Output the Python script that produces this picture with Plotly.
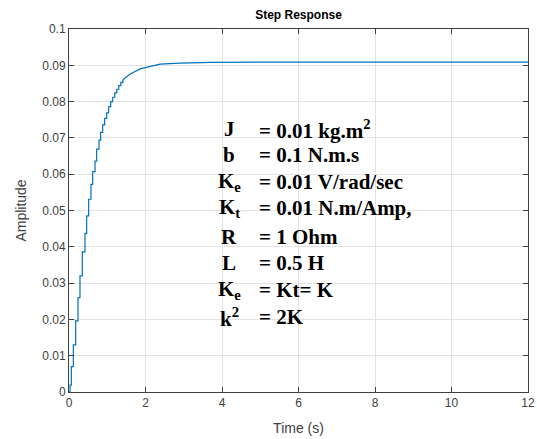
import plotly.graph_objects as go

# --- Data (staircase portion, then smooth settling) ---
stair_t = [0.0, 0.026, 0.061, 0.113, 0.174, 0.235, 0.287, 0.348, 0.418, 0.462,
           0.514, 0.575, 0.619, 0.68, 0.723, 0.784, 0.828, 0.88, 0.932, 0.985,
           1.037, 1.09, 1.143, 1.196, 1.249, 1.302, 1.355, 1.408]
stair_y = [0.0, 0.0019, 0.007, 0.013, 0.0196, 0.026, 0.032, 0.0386, 0.0437, 0.0485,
           0.0531, 0.0572, 0.0607, 0.0636, 0.0669, 0.0694, 0.0715, 0.0736, 0.0754, 0.0769,
           0.0786, 0.080, 0.0812, 0.0824, 0.0834, 0.0844, 0.0853, 0.086]
smooth_t = [1.408, 1.6, 1.86, 2.0, 2.38, 2.9, 3.7, 5.0, 12.0]
smooth_y = [0.086, 0.0876, 0.089, 0.0894, 0.0903, 0.0906, 0.0908, 0.0909, 0.0909]

x_ticks = [0, 2, 4, 6, 8, 10, 12]
y_ticks = [0, 0.01, 0.02, 0.03, 0.04, 0.05, 0.06, 0.07, 0.08, 0.09, 0.1]
y_ticktext = ["0", "0.01", "0.02", "0.03", "0.04", "0.05", "0.06", "0.07", "0.08", "0.09", "0.1"]

param_names = ["J", "b", "K<sub>e</sub>", "K<sub>t</sub>", "R", "L", "K<sub>e</sub>", "k<sup>2</sup>"]
param_values = ["= 0.01 kg.m<sup>2</sup>", "= 0.1 N.m.s", "= 0.01 V/rad/sec",
                "= 0.01 N.m/Amp,", "= 1 Ohm", "= 0.5 H", "= Kt= K", "= 2K"]
param_rows_px = [129, 155, 182, 208, 237, 263, 290, 317]

W, H = 537, 439
L_M, R_M, T_M, B_M = 69, 9, 29, 47
PW, PH = W - L_M - R_M, H - T_M - B_M

line_col = "#0072BD"
axis_col = "#404040"

fig = go.Figure()
fig.add_trace(go.Scatter(x=stair_t, y=stair_y, mode="lines", line_shape="hv",
                         line=dict(color=line_col, width=1.2), showlegend=False))
fig.add_trace(go.Scatter(x=smooth_t, y=smooth_y, mode="lines",
                         line=dict(color=line_col, width=1.2), showlegend=False))

common_axis = dict(showline=True, linecolor=axis_col, linewidth=1, mirror="ticks",
                   ticks="inside", ticklen=5, tickcolor=axis_col, automargin=False,
                   showgrid=True, gridcolor="#e3e3e3", gridwidth=1, zeroline=False,
                   tickfont=dict(family="Liberation Sans, Arial", size=12, color=axis_col))

fig.update_xaxes(range=[0, 12], tickvals=x_ticks, **common_axis,
                 title=dict(text="Time (s)", font=dict(family="Liberation Sans, Arial", size=14, color=axis_col), standoff=13))
fig.update_yaxes(range=[0, 0.1], tickvals=y_ticks, ticktext=y_ticktext, **common_axis,
                 title=dict(text="Amplitude", font=dict(family="Liberation Sans, Arial", size=14, color=axis_col), standoff=12))

serif = dict(family="Liberation Serif, Times New Roman", size=21, color="black")
for name, val, py in zip(param_names, param_values, param_rows_px):
    yp = (H - B_M - py) / PH
    fig.add_annotation(x=(229 - L_M) / PW, y=yp, xref="paper", yref="paper",
                       text="<b>" + name + "</b>", showarrow=False, xanchor="center",
                       yanchor="middle", font=serif)
    fig.add_annotation(x=(257 - L_M) / PW, y=yp, xref="paper", yref="paper",
                       text="<b>" + val + "</b>", showarrow=False, xanchor="left",
                       yanchor="middle", font=serif)

fig.update_layout(
    width=W, height=H,
    margin=dict(l=L_M, r=R_M, t=T_M, b=B_M),
    paper_bgcolor="white", plot_bgcolor="white",
    title=dict(text="<b>Step Response</b>", x=(L_M + PW / 2) / W, xanchor="center",
               y=1 - 15 / H, yanchor="middle",
               font=dict(family="Liberation Sans, Arial", size=12, color="black")),
)

fig.write_html("out.html", config={"displayModeBar": False},
               post_script="document.body.style.margin='0';document.body.style.overflow='hidden';")
